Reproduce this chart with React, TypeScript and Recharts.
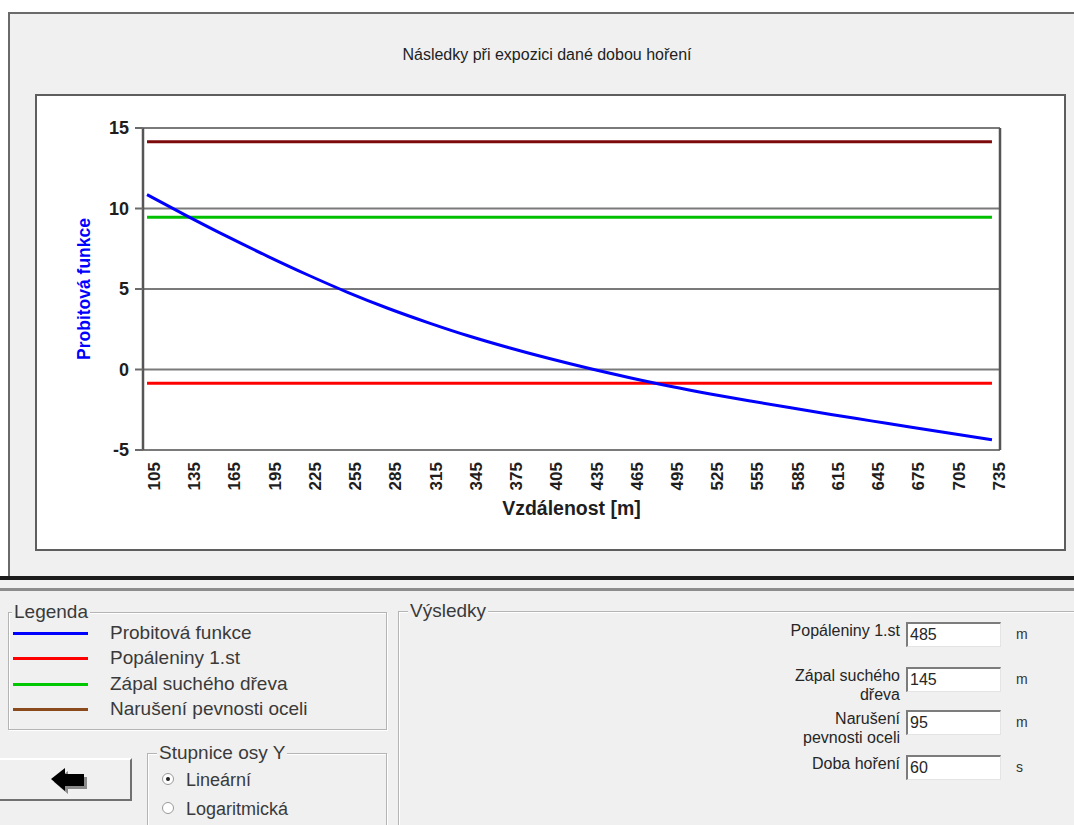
import React from "react";
import {
  CartesianGrid,
  Label,
  Line,
  LineChart,
  XAxis,
  YAxis,
} from "recharts";

// distances along the x axis [m]
const distances = [
  105, 135, 165, 195, 225, 255, 285, 315, 345, 375, 405, 435, 465, 495, 525,
  555, 585, 615, 645, 675, 705, 735,
];

// probit function
const probitValues = [
  10.86, 9.53, 8.25, 7.03, 5.87, 4.78, 3.79, 2.9, 2.08, 1.35, 0.68, 0.06,
  -0.51, -1.04, -1.52, -1.96, -2.38, -2.79, -3.19, -3.59, -3.98, -4.36,
];

// threshold probit levels (horizontal lines)
const burnLevel = -0.85;
const woodLevel = 9.45;
const steelLevel = 14.15;

const yTicks = [-5, 0, 5, 10, 15];

const legendNames = [
  "Probitová funkce",
  "Popáleniny 1.st",
  "Zápal suchého dřeva",
  "Narušení pevnosti oceli",
];
const legendColors = ["#0000ff", "#ff0000", "#00c800", "#8b4a1c"];

const COLORS = {
  probit: "#0000ff",
  burn: "#ff0000",
  wood: "#00c000",
  steel: "#7d0a0a",
};

const rows = distances.map((d, i) => ({
  distance: d,
  probit: probitValues[i],
  burn: burnLevel,
  wood: woodLevel,
  steel: steelLevel,
}));

const FONT = '"Liberation Sans", Arial, sans-serif';

function DistanceTick(props: any) {
  const { x, y, payload } = props;
  const cx = x + 7;
  const cy = y + 12;
  return (
    <text
      x={cx}
      y={cy}
      transform={`rotate(-90 ${cx} ${cy})`}
      textAnchor="end"
      dy="0.35em"
      fontFamily={FONT}
      fontWeight="bold"
      fontSize={17}
      fill="#1e1e1e"
    >
      {payload.value}
    </text>
  );
}

function YTitle(props: any) {
  const vb = props.viewBox;
  const x = vb.x + 47;
  const y = vb.y + vb.height / 2;
  return (
    <text
      x={x}
      y={y}
      transform={`rotate(-90 ${x} ${y})`}
      textAnchor="middle"
      dy="0.35em"
      fontFamily={FONT}
      fontWeight="bold"
      fontSize={17.5}
      fill="#0000ff"
    >
      Probitová funkce
    </text>
  );
}

function XTitle(props: any) {
  const vb = props.viewBox;
  return (
    <text
      x={vb.x + vb.width / 2}
      y={vb.y + 58}
      textAnchor="middle"
      dy="0.35em"
      fontFamily={FONT}
      fontWeight="bold"
      fontSize={19.5}
      fill="#1e1e1e"
    >
      Vzdálenost [m]
    </text>
  );
}

function ProbitChart() {
  const tickStyle = {
    fontFamily: FONT,
    fontWeight: "bold",
    fontSize: 18,
    fill: "#1e1e1e",
  };
  return (
    <LineChart
      width={1027}
      height={453}
      data={rows}
      margin={{ top: 32, right: 0, bottom: 0, left: 0 }}
    >
      <CartesianGrid
        yAxisId="left"
        vertical={false}
        stroke="#7a7a7a"
        strokeWidth={2}
      />
      <XAxis
        dataKey="distance"
        type="number"
        domain={[102, 741]}
        ticks={distances}
        interval={0}
        tick={<DistanceTick />}
        tickLine={false}
        axisLine={false}
        tickSize={0}
        tickMargin={0}
        height={99}
      >
        <Label content={<XTitle />} />
      </XAxis>
      <YAxis
        yAxisId="left"
        domain={[-5, 15]}
        ticks={yTicks}
        interval={0}
        width={106}
        tickSize={8}
        tickMargin={6}
        tick={tickStyle}
        tickLine={{ stroke: "#6a6a6a", strokeWidth: 2 }}
        axisLine={{ stroke: "#555555", strokeWidth: 2.5 }}
      >
        <Label content={<YTitle />} />
      </YAxis>
      <YAxis
        yAxisId="right"
        orientation="right"
        domain={[-5, 15]}
        ticks={yTicks}
        interval={0}
        width={64}
        tickSize={8}
        tickMargin={8}
        tick={{ ...tickStyle, textAnchor: "start" }}
        tickLine={{ stroke: "#6a6a6a", strokeWidth: 2 }}
        axisLine={{ stroke: "#555555", strokeWidth: 2.5 }}
      />
      <Line
        yAxisId="left"
        type="linear"
        dataKey="steel"
        stroke={COLORS.steel}
        strokeWidth={3}
        dot={false}
        isAnimationActive={false}
      />
      <Line
        yAxisId="left"
        type="linear"
        dataKey="wood"
        stroke={COLORS.wood}
        strokeWidth={3}
        dot={false}
        isAnimationActive={false}
      />
      <Line
        yAxisId="left"
        type="linear"
        dataKey="burn"
        stroke={COLORS.burn}
        strokeWidth={3}
        dot={false}
        isAnimationActive={false}
      />
      <Line
        yAxisId="left"
        type="monotone"
        dataKey="probit"
        stroke={COLORS.probit}
        strokeWidth={3}
        dot={false}
        isAnimationActive={false}
      />
    </LineChart>
  );
}

function GroupBox(props: {
  left: number;
  top: number;
  width: number;
  height: number;
  title: string;
  titleLeft: number;
}) {
  const { left, top, width, height, title, titleLeft } = props;
  return (
    <>
      <div
        style={{
          position: "absolute",
          left,
          top,
          width,
          height,
          border: "1px solid #b4b4b4",
          boxShadow: "inset 1px 1px 0 #ffffff, 1px 1px 0 #ffffff",
          boxSizing: "border-box",
        }}
      />
      <div
        style={{
          position: "absolute",
          left: titleLeft,
          top: top - 11,
          padding: "0 2px",
          background: "#f0f0f0",
          fontSize: 19,
          lineHeight: "22px",
          color: "#3a3a3a",
        }}
      >
        {title}
      </div>
    </>
  );
}

function ResultRow(props: {
  lines: string[];
  top: number;
  value: string;
  unit: string;
}) {
  const { lines, top, value, unit } = props;
  return (
    <>
      <div
        style={{
          position: "absolute",
          right: 1074 - 900,
          top: top - 1,
          textAlign: "right",
          fontSize: 16,
          lineHeight: "19px",
          color: "#262626",
        }}
      >
        {lines.map((l) => (
          <div key={l}>{l}</div>
        ))}
      </div>
      <div
        style={{
          position: "absolute",
          left: 906,
          top,
          width: 95,
          height: 25,
          background: "#ffffff",
          borderTop: "2px solid #7c7c7c",
          borderLeft: "2px solid #7c7c7c",
          borderRight: "1px solid #e4e4e4",
          borderBottom: "1px solid #e4e4e4",
          boxSizing: "border-box",
          fontSize: 16,
          lineHeight: "21px",
          paddingLeft: 2,
          color: "#262626",
        }}
      >
        {value}
      </div>
      <div
        style={{
          position: "absolute",
          left: 1016,
          top: top + 4,
          fontSize: 14,
          color: "#333",
        }}
      >
        {unit}
      </div>
    </>
  );
}

export default function App() {
  return (
    <div
      style={{
        position: "absolute",
        left: 0,
        top: 0,
        width: 1074,
        height: 825,
        overflow: "hidden",
        background: "#ffffff",
        fontFamily: FONT,
      }}
    >
      {/* upper frame */}
      <div
        style={{
          position: "absolute",
          left: 8,
          top: 12,
          width: 1080,
          height: 566,
          background: "#f0f0f0",
          borderTop: "2px solid #6a6a6a",
          borderLeft: "2px solid #6a6a6a",
          boxSizing: "border-box",
        }}
      />
      <div
        style={{
          position: "absolute",
          left: 347,
          top: 46,
          width: 400,
          textAlign: "center",
          fontSize: 16,
          color: "#222",
        }}
      >
        Následky při expozici dané dobou hoření
      </div>
      <div
        style={{
          position: "absolute",
          left: 35,
          top: 94,
          width: 1031,
          height: 457,
          background: "#ffffff",
          border: "2px solid #5e5e5e",
          boxSizing: "border-box",
        }}
      >
        <ProbitChart />
      </div>

      {/* lower panel */}
      <div
        style={{
          position: "absolute",
          left: 0,
          top: 576,
          width: 1074,
          height: 249,
          background: "#f0f0f0",
        }}
      />
      <div
        style={{
          position: "absolute",
          left: 0,
          top: 576,
          width: 1074,
          height: 4,
          background: "#1c1c1c",
        }}
      />
      <div
        style={{
          position: "absolute",
          left: 0,
          top: 588,
          width: 1074,
          height: 3,
          background: "#8c8c8c",
        }}
      />

      <GroupBox left={8} top={612} width={379} height={118} title="Legenda" titleLeft={12} />
      {legendNames.map((name, i) => (
        <React.Fragment key={name}>
          <div
            style={{
              position: "absolute",
              left: 13,
              top: 632 + i * 25.3,
              width: 75,
              height: 3,
              background: legendColors[i],
            }}
          />
          <div
            style={{
              position: "absolute",
              left: 110,
              top: 622 + i * 25.3,
              fontSize: 19,
              lineHeight: "22px",
              color: "#3a3a3a",
            }}
          >
            {name}
          </div>
        </React.Fragment>
      ))}

      {/* back button */}
      <div
        style={{
          position: "absolute",
          left: -3,
          top: 758,
          width: 135,
          height: 43,
          borderTop: "2px solid #ffffff",
          borderLeft: "2px solid #ffffff",
          borderRight: "2px solid #707070",
          borderBottom: "2px solid #707070",
          boxSizing: "border-box",
        }}
      >
        <svg width={131} height={39} style={{ position: "absolute", left: 0, top: 0 }}>
          <polygon
            points="52,19 66,8 66,14 85,14 85,26 66,26 66,31"
            fill="#8a8a8a"
            transform="translate(3,3)"
          />
          <polygon points="52,19 66,8 66,14 85,14 85,26 66,26 66,31" fill="#000000" />
        </svg>
      </div>

      <GroupBox left={147} top={753} width={240} height={100} title="Stupnice osy Y" titleLeft={157} />
      {["Lineární", "Logaritmická"].map((t, i) => (
        <React.Fragment key={t}>
          <div
            style={{
              position: "absolute",
              left: 162,
              top: 773 + i * 29,
              width: 12,
              height: 12,
              borderRadius: "50%",
              background: "#ffffff",
              border: "1px solid #9a9a9a",
              boxSizing: "border-box",
            }}
          >
            {i === 0 && (
              <div
                style={{
                  position: "absolute",
                  left: 3,
                  top: 3,
                  width: 4,
                  height: 4,
                  borderRadius: "50%",
                  background: "#222",
                }}
              />
            )}
          </div>
          <div
            style={{
              position: "absolute",
              left: 186,
              top: 769 + i * 29,
              fontSize: 18,
              lineHeight: "22px",
              color: "#3a3a3a",
            }}
          >
            {t}
          </div>
        </React.Fragment>
      ))}

      <GroupBox left={398} top={611} width={700} height={250} title="Výsledky" titleLeft={408} />
      <ResultRow lines={["Popáleniny 1.st"]} top={622} value="485" unit="m" />
      <ResultRow lines={["Zápal suchého", "dřeva"]} top={667} value="145" unit="m" />
      <ResultRow lines={["Narušení", "pevnosti oceli"]} top={710} value="95" unit="m" />
      <ResultRow lines={["Doba hoření"]} top={755} value="60" unit="s" />
    </div>
  );
}
